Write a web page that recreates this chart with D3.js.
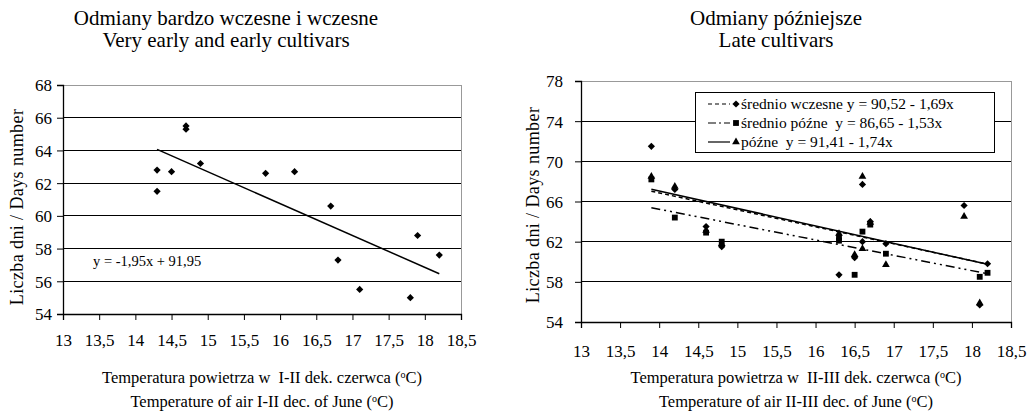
<!DOCTYPE html>
<html>
<head>
<meta charset="utf-8">
<script src="https://cdn.jsdelivr.net/npm/d3@7"></script>
<style>
  body { margin: 0; background: #fff; }
</style>
</head>
<body>
<script>
// left chart: very early and early cultivars
const leftTemp = [14.3, 14.3, 14.5, 14.7, 14.7, 14.9, 15.8, 16.2, 16.7, 16.8, 17.1, 17.8, 17.9, 18.2];
const leftDays = [62.8, 61.5, 62.7, 65.5, 65.3, 63.2, 62.6, 62.7, 60.6, 57.3, 55.5, 55.0, 58.8, 57.6];
const leftTrend = [-1.95, 91.95]; // slope, intercept

// right chart: later cultivars
const sredWczTemp = [13.9, 14.2, 14.6, 14.8, 16.3, 16.5, 16.6, 16.6, 16.7, 16.9, 17.9, 18.1, 18.2];
const sredWczDays = [71.5, 67.2, 63.5, 61.5, 58.7, 60.4, 67.7, 62.0, 64.0, 61.8, 65.6, 55.7, 59.8];
const sredPozTemp = [13.9, 14.2, 14.6, 14.8, 16.3, 16.3, 16.5, 16.6, 16.7, 16.9, 18.1, 18.2];
const sredPozDays = [68.2, 64.4, 62.9, 62.0, 62.4, 62.1, 58.7, 63.0, 63.7, 60.8, 58.5, 58.9];
const pozneTemp = [13.9, 14.2, 14.6, 14.8, 16.3, 16.5, 16.6, 16.6, 16.7, 16.9, 17.9, 18.1];
const pozneDays = [68.5, 67.5, 63.1, 61.8, 62.8, 60.7, 68.5, 61.3, 63.9, 59.7, 64.5, 55.9];
const rightTrends = [[-1.69, 90.52], [-1.53, 86.65], [-1.74, 91.41]];
const rightRange = [13.9, 18.2];
const legendLabels = ['średnio wczesne y = 90,52 - 1,69x', 'średnio późne  y = 86,65 - 1,53x', 'późne  y = 91,41 - 1,74x'];

const xTicks = [13, 13.5, 14, 14.5, 15, 15.5, 16, 16.5, 17, 17.5, 18, 18.5];
const leftYTicks = [54, 56, 58, 60, 62, 64, 66, 68];
const rightYTicks = [54, 58, 62, 66, 70, 74, 78];

const FONT = '"Liberation Serif", "Times New Roman", serif';
const fmt = d => String(d).replace('.', ',');

const svg = d3.select('body').append('svg')
  .attr('width', 1027).attr('height', 414)
  .attr('font-family', FONT);

function txt(sel, size) {
  return sel.append('text').attr('font-family', FONT).attr('font-size', size).attr('fill', '#000');
}

function drawFrame(o) {
  const x = d3.scaleLinear().domain([13, 18.5]).range([o.x0, o.x1]);
  const y = d3.scaleLinear().domain(o.yDomain).range([o.y1, o.y0]);
  const g = svg.append('g');

  // grid
  g.selectAll('.grid').data(o.yTicks.slice(1, -1)).enter().append('line')
    .attr('x1', o.x0).attr('x2', o.x1)
    .attr('y1', d => y(d)).attr('y2', d => y(d))
    .attr('stroke', '#000').attr('stroke-width', 1).attr('shape-rendering', 'crispEdges');
  // plot border top / right
  g.append('path')
    .attr('d', `M${o.x0},${o.y0}H${o.x1}V${o.y1}`)
    .attr('fill', 'none').attr('stroke', '#999').attr('shape-rendering', 'crispEdges');

  const xAxis = g.append('g')
    .attr('transform', `translate(0,${o.y1})`)
    .call(d3.axisBottom(x).tickValues(xTicks).tickFormat(fmt).tickSize(6).tickPadding(o.xPad));
  const yAxis = g.append('g')
    .attr('transform', `translate(${o.x0},0)`)
    .call(d3.axisLeft(y).tickValues(o.yTicks).tickFormat(d3.format('d')).tickSize(6).tickPadding(o.yPad));
  [xAxis, yAxis].forEach(a => {
    a.attr('font-family', FONT).attr('font-size', 17);
    a.select('.domain').attr('stroke', '#000').attr('stroke-width', 1.3);
    a.selectAll('.tick line').attr('stroke', '#000');
    a.selectAll('text').attr('fill', '#000');
  });
  yAxis.selectAll('text').attr('dy', '0.35em');

  // titles
  o.title.forEach((t, i) => {
    txt(g, 21).attr('x', o.titleX).attr('y', 25 + i * 22)
      .attr('text-anchor', 'middle').text(t);
  });
  txt(g, 18)
    .attr('transform', `translate(${o.yTitleX},${o.yTitleY}) rotate(-90)`)
    .attr('text-anchor', 'middle').attr('dy', '0.35em')
    .attr('letter-spacing', 0.4)
    .text('Liczba dni / Days number');
  o.xTitle.forEach((t, i) => {
    const tx = txt(g, 16.5).attr('x', (o.x0 + o.x1) / 2).attr('y', 383 + i * 24)
      .attr('text-anchor', 'middle')
      .attr('xml:space', 'preserve').style('white-space', 'pre');
    tx.append('tspan').text(t + ' (');
    tx.append('tspan').attr('baseline-shift', 'super').attr('font-size', 10).text('o');
    tx.append('tspan').text('C)');
  });
  return { g, x, y };
}

const diamond = d3.symbol().type(d3.symbolSquare).size(26);
const square = d3.symbol().type(d3.symbolSquare).size(34);
const triangle = d3.symbol().type(d3.symbolTriangle).size(26);

function drawPoints(c, xs, ys, sym, rot) {
  c.g.selectAll(null).data(xs).enter().append('path')
    .attr('d', sym)
    .attr('transform', (d, i) => `translate(${c.x(d)},${c.y(ys[i])}) rotate(${rot})`)
    .attr('fill', '#000');
}

function drawTrend(c, coef, range, dash) {
  c.g.append('line')
    .attr('x1', c.x(range[0])).attr('y1', c.y(coef[1] + coef[0] * range[0]))
    .attr('x2', c.x(range[1])).attr('y2', c.y(coef[1] + coef[0] * range[1]))
    .attr('stroke', '#000').attr('stroke-width', 1.5)
    .attr('stroke-dasharray', dash);
}

// ---- left chart
const left = drawFrame({
  x0: 63, x1: 461, y0: 85, y1: 314, yDomain: [54, 68], yTicks: leftYTicks, yPad: 5, xPad: 14,
  title: ['Odmiany bardzo wczesne i wczesne', 'Very early and early cultivars'], titleX: 226,
  yTitleX: 17, yTitleY: 207,
  xTitle: ['Temperatura powietrza w  I-II dek. czerwca', 'Temperature of air I-II dec. of June']
});
drawTrend(left, leftTrend, d3.extent(leftTemp), null);
drawPoints(left, leftTemp, leftDays, diamond, 45);
txt(left.g, 14.5).attr('x', 93).attr('y', 266).text('y = -1,95x + 91,95');

// ---- right chart
const right = drawFrame({
  x0: 581, x1: 1011, y0: 81, y1: 322, yDomain: [54, 78], yTicks: rightYTicks, yPad: 12, xPad: 17,
  title: ['Odmiany późniejsze', 'Late cultivars'], titleX: 776,
  yTitleX: 533, yTitleY: 205,
  xTitle: ['Temperatura powietrza w  II-III dek. czerwca', 'Temperature of air II-III dec. of June']
});
const dashes = ['4,3', '9,4,2,4,2,4', null];
rightTrends.forEach((t, i) => drawTrend(right, t, rightRange, dashes[i]));
drawPoints(right, sredWczTemp, sredWczDays, diamond, 45);
drawPoints(right, sredPozTemp, sredPozDays, square, 0);
drawPoints(right, pozneTemp, pozneDays, triangle, 0);

// legend
const lg = right.g.append('g').attr('transform', 'translate(695,92)');
lg.append('rect').attr('width', 299).attr('height', 60)
  .attr('fill', '#fff').attr('stroke', '#000').attr('shape-rendering', 'crispEdges');
const legendSyms = [[diamond, 45], [square, 0], [triangle, 0]];
const legendDash = ['4,3', '8,3,2,3', null];
legendLabels.forEach((lab, i) => {
  const ly = 12 + i * 19;
  lg.append('line').attr('x1', 13).attr('x2', 35).attr('y1', ly).attr('y2', ly)
    .attr('stroke', '#000').attr('stroke-width', 1.2).attr('stroke-dasharray', legendDash[i]);
  lg.append('path').attr('d', legendSyms[i][0])
    .attr('transform', `translate(41,${ly}) rotate(${legendSyms[i][1]})`).attr('fill', '#000');
  txt(lg, 15.5).attr('x', 46).attr('y', ly).attr('dy', '0.35em')
    .attr('xml:space', 'preserve').style('white-space', 'pre')
    .text(lab);
});
</script>
</body>
</html>
